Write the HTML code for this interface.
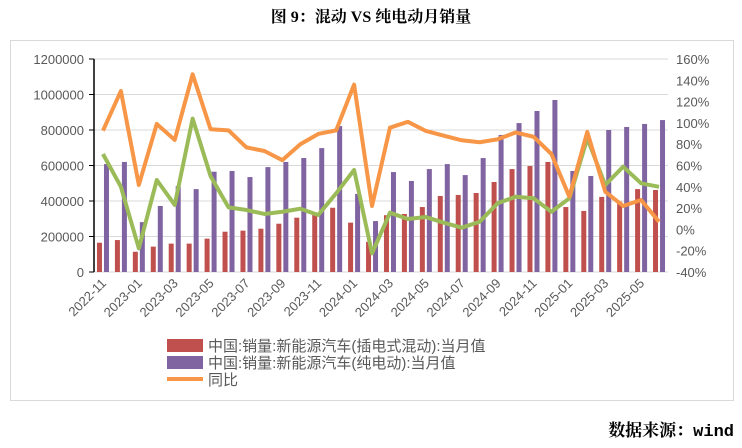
<!DOCTYPE html>
<html><head><meta charset="utf-8"><style>
body{margin:0;width:742px;height:448px;background:#fff;overflow:hidden;font-family:"Liberation Sans","Noto Sans CJK SC",sans-serif}
#title{position:absolute;left:0;width:742px;top:4px;text-align:center;font:bold 16px "Liberation Serif","Noto Serif CJK SC",serif;color:#000}
#src{position:absolute;right:8px;top:416px;font:bold 17px "Liberation Mono","Noto Serif CJK SC",monospace}
#box{position:absolute;left:10px;top:40px;width:722px;height:359px;border:1px solid #d9d9d9}
svg{position:absolute;left:0;top:0}
</style></head><body>
<div id="title">图 9：混动 VS 纯电动月销量</div>
<div id="box"></div>
<svg id="chart" width="742" height="448"></svg>
<div id="src">数据来源：wind</div>
<script>
const months=["2022-11","2022-12","2023-01","2023-02","2023-03","2023-04","2023-05","2023-06","2023-07","2023-08","2023-09","2023-10","2023-11","2023-12","2024-01","2024-02","2024-03","2024-04","2024-05","2024-06","2024-07","2024-08","2024-09","2024-10","2024-11","2024-12","2025-01","2025-02","2025-03","2025-04","2025-05","2025-06"];
const phev=[165000,180000,114000,143000,160000,160000,188000,227000,233000,244000,272000,306000,321000,362000,278000,170000,320000,327000,366000,428000,434000,445000,507000,580000,597000,620000,366000,344000,423000,396000,467000,462000];
const bev=[608000,620000,281000,372000,484000,467000,565000,569000,535000,591000,620000,642000,698000,822000,440000,287000,563000,513000,580000,608000,546000,642000,772000,839000,907000,969000,569000,541000,800000,817000,834000,856000];
const yoyOrange=[92.7,130,41.7,99,84,145.6,94,93,77,73.6,65,80,89.6,93,136,22,95.5,101,92.4,88,83.7,81.8,84.6,91,87,70.8,30.7,91.5,35.4,22,27.6,7.2];
const yoyGreen=[70.8,40,-17.8,46.4,23,104,50,20.7,18.2,14.5,16.6,19.4,13.5,33.9,55.8,-22.5,15.7,9.8,11.6,6.3,1.6,7.2,24.5,30.7,29.2,16.6,29.2,85.5,41.7,58.9,43.3,40];
const leftTicks=[0,200000,400000,600000,800000,1000000,1200000];
const rightTicks=[-40,-20,0,20,40,60,80,100,120,140,160];
const L=94,R=668,T=59,B=272;
const svg=document.getElementById('chart');const NS='http://www.w3.org/2000/svg';
function mk(t,a,p){const e=document.createElementNS(NS,t);for(const k in a)e.setAttribute(k,a[k]);(p||svg).appendChild(e);return e;}
const step=(R-L)/months.length;
const xc=i=>L+step*(i+0.5);
const yL=v=>B-(v/1200000)*(B-T);
const yR=v=>B-((v+40)/200)*(B-T);
leftTicks.forEach(v=>{
 const g=mk('line',{x1:L,x2:R,y1:yL(v),y2:yL(v),stroke:'#d9d9d9','stroke-width':1});
 
 
 const t=mk('text',{x:L-10,y:yL(v)+5,'text-anchor':'end','font-size':13,fill:'#595959'});t.textContent=v;
 
 
 mk('line',{x1:L-5,x2:L,y1:yL(v),y2:yL(v),stroke:'#000'});
});
rightTicks.forEach(v=>{
 const t=mk('text',{x:R+8,y:yR(v)+5,'font-size':13,fill:'#595959'});t.textContent=v+'%';
 
 
});
mk('line',{x1:L,x2:L,y1:T,y2:B,stroke:'#000','stroke-width':1.5});
months.forEach((m,i)=>{
 const r=mk('rect',{x:xc(i)-6,y:yL(phev[i]),width:5,height:B-yL(phev[i]),fill:'#c0504d'});
 
 
 const p=mk('rect',{x:xc(i)+1,y:yL(bev[i]),width:5,height:B-yL(bev[i]),fill:'#8064a2'});
 
 
 if(i%2==0){const t=mk('text',{x:0,y:0,'text-anchor':'end','font-size':13,fill:'#595959',transform:`translate(${xc(i)+4},${B+12}) rotate(-45)`});t.textContent=m;
 
 }
});
function line(arr,color,name){
 const l=mk('polyline',{points:arr.map((v,i)=>xc(i)+','+yR(v)).join(' '),fill:'none',stroke:color,'stroke-width':4,'stroke-linejoin':'round'});
 
 
}
line(yoyGreen,'#9bbb59','line-yoy-green');
line(yoyOrange,'#f79646','line-yoy');
const leg=[['#c0504d','中国:销量:新能源汽车(插电式混动):当月值','r'],['#8064a2','中国:销量:新能源汽车(纯电动):当月值','r'],['#f79646','同比','l']];
leg.forEach((d,k)=>{const y=345+k*17;
 if(d[2]=='r')mk('rect',{x:167,y:y-6,width:36,height:13,fill:d[0]});else mk('line',{x1:167,x2:203,y1:y,y2:y,stroke:d[0],'stroke-width':4});
 const t=mk('text',{x:208,y:y+6,'font-size':15,fill:'#595959'});t.textContent=d[1];
 
 
});
</script>
</body></html>
